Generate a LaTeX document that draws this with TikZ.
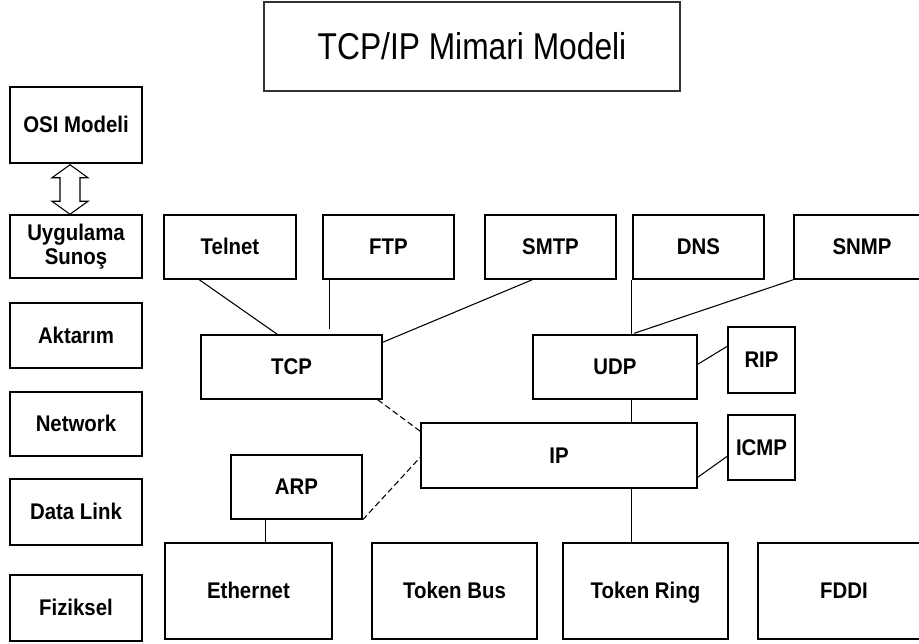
\documentclass[tikz,border=0pt]{standalone}
\usepackage{fontspec}
\setmainfont{Liberation Sans}
\newfontfamily\titlefont[FakeStretch=0.85]{Liberation Sans}
\newfontfamily\labelfont[FakeStretch=0.9]{Liberation Sans}
\usetikzlibrary{calc}

% a box given by its corner pixels (x1,y1)-(x2,y2)
\newcommand\layerbox[7][single]{%
  \node[box,#1,minimum width={(#5-#3)*0.75pt},minimum height={(#6-#4)*0.75pt}]
    (#2) at ({(#3+#5)/2},{(#4+#6)/2}) {#7};}

\tikzset{
  box/.style={draw=black,line width=1.1pt,inner sep=0pt,align=center,
    font=\labelfont\bfseries\fontsize{17}{17.5}\selectfont},
  single/.style={text height=12pt,text depth=0.5pt},
  link/.style={draw=black,line width=0.8pt},
  dlink/.style={link,dash pattern=on 4.5pt off 2.5pt},
}

\begin{document}
\begin{tikzpicture}[x=0.75pt,y=-0.75pt]
\useasboundingbox (0,0) rectangle (919,643);
\fill[white] (0,0) rectangle (919,643);
\clip (0,0) rectangle (919,643);

% title
\layerbox[draw=black!80,line width=1.4pt,font=\titlefont\fontsize{28}{30}\selectfont]
  {title}{264}{2}{680}{91}{TCP/IP Mimari Modeli}

% OSI layers on the left
\layerbox{osi}{10}{87}{142}{163}{OSI Modeli}
\layerbox[]{uyg}{10}{215}{142}{278}{Uygulama\\Suno\c{s}}
\layerbox{akt}{10}{303}{142}{368}{Aktar\i m}
\layerbox{net}{10}{392}{142}{456}{Network}
\layerbox{dl}{10}{479}{142}{545}{Data Link}
\layerbox{fiz}{10}{575}{142}{641}{Fiziksel}

% application protocols
\layerbox{telnet}{164}{215}{296}{279}{Telnet}
\layerbox{ftp}{323}{215}{454}{279}{FTP}
\layerbox{smtp}{485}{215}{616}{279}{SMTP}
\layerbox{dns}{633}{215}{764}{279}{DNS}
\layerbox[single,text width=125*0.75pt]{snmp}{794}{215}{930}{279}{SNMP}

% transport and network
\layerbox{tcp}{201}{335}{382}{399}{TCP}
\layerbox{udp}{533}{335}{697}{399}{UDP}
\layerbox{rip}{728}{327}{795}{393}{RIP}
\layerbox{ip}{421}{423}{697}{488}{IP}
\layerbox{icmp}{728}{415}{795}{480}{ICMP}
\layerbox{arp}{231}{455}{362}{519}{ARP}

% physical networks
\layerbox{eth}{165}{543}{332}{639}{Ethernet}
\layerbox{bus}{372}{543}{537}{639}{Token Bus}
\layerbox{ring}{563}{543}{728}{639}{Token Ring}
\layerbox[single,text width=161*0.75pt]{fddi}{758}{543}{930}{639}{FDDI}

% hollow double arrow between OSI Modeli and Uygulama
\coordinate (at) at ($(osi.south)+(-6,1)$);
\coordinate (ab) at ($(uyg.north)+(-6,0)$);
\draw[line width=0.8pt,fill=white]
  (at) -- ++(18,13) -- ++(-8,0) -- ($(ab)+(10,-13)$) -- ++(8,0) -- (ab)
  -- ++(-18,-13) -- ++(8,0) -- ($(at)+(-10,13)$) -- ++(-8,0) -- cycle;

% connectors
\draw[link] ($(telnet.south west)+(36,0)$) -- ($(tcp.north west)+(77,0)$);
\draw[link] ($(ftp.south west)+(7,0)$) coordinate (f) -- ($(tcp.north west)+(129,-5)$);
\draw[link] ($(smtp.south west)+(48,0)$) -- ($(tcp.north east)+(0,8)$);
\draw[link] ($(udp.north west)+(99,0)$) coordinate (ud) -- (ud |- dns.south);
\draw[link] (snmp.south west) -- ($(udp.north west)+(102,-1)$);
\draw[link] ($(udp.north east)+(0,30)$) -- ($(rip.north west)+(0,20)$);
\draw[link] ($(ip.north west)+(211,0)$) coordinate (iu) -- (iu |- udp.south);
\draw[link] ($(ip.north east)+(0,55)$) -- ($(icmp.north west)+(0,42)$);
\draw[link] ($(ring.north west)+(69,0)$) coordinate (ri) -- (ri |- ip.south);
\draw[link] ($(eth.north west)+(101,0)$) coordinate (ea) -- (ea |- arp.south);
\draw[dlink] ($(tcp.south east)+(-5,0)$) -- ($(ip.north west)+(0,9)$);
\draw[dlink] (arp.south east) -- ($(ip.north west)+(0,35)$);
\end{tikzpicture}
\end{document}
